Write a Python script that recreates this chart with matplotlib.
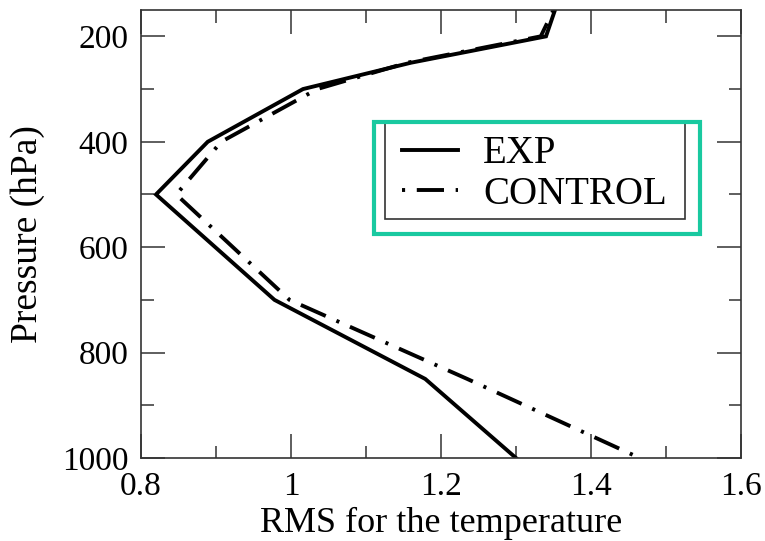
import matplotlib
matplotlib.use("Agg")
import matplotlib.pyplot as plt
from matplotlib.patches import Rectangle
from matplotlib.ticker import MultipleLocator

pressure = [150, 200, 250, 300, 400, 500, 700, 850, 1000]
exp_rms = [1.352, 1.340, 1.160, 1.016, 0.889, 0.820, 0.978, 1.179, 1.300]
control_rms = [1.350, 1.333, 1.155, 1.035, 0.907, 0.847, 0.998, 1.235, 1.465]
series_labels = ["EXP", "CONTROL"]
xlabel = "RMS for the temperature"
ylabel = "Pressure (hPa)"

plt.rcParams['font.family'] = ['Liberation Serif', 'DejaVu Serif']

fig = plt.figure(figsize=(7.65, 5.41), dpi=100)
ax = fig.add_axes([141/765, 1-458/541, 600/765, 448/541])

ax.plot(exp_rms, pressure, color='black', lw=2.8, solid_joinstyle='miter',
        label=series_labels[0])
ax.plot(control_rms, pressure, color='black', lw=2.8,
        linestyle=(10, (7, 3, 0.8, 3)), dash_capstyle='butt',
        label=series_labels[1])

ax.set_xlim(0.8, 1.6)
ax.set_ylim(1000, 150)
ax.xaxis.set_minor_locator(MultipleLocator(0.1))
ax.yaxis.set_major_locator(MultipleLocator(200))
ax.yaxis.set_minor_locator(MultipleLocator(100))
ax.set_xticks([0.8, 1.0, 1.2, 1.4, 1.6])
ax.set_xticklabels(["0.8", "1", "1.2", "1.4", "1.6"])

ax.tick_params(which='both', direction='in', top=True, right=True,
               color='#333333', width=1.1, labelsize=24)
ax.tick_params(axis='x', which='both', pad=10)
ax.tick_params(axis='y', which='both', pad=9)
ax.tick_params(which='major', length=17)
ax.tick_params(which='minor', length=9)
for s in ax.spines.values():
    s.set_color('#333333')
    s.set_linewidth(1.2)

ax.set_xlabel(xlabel, fontsize=26, labelpad=3)
ax.set_ylabel(ylabel, fontsize=27, labelpad=12)

# legend frame drawn separately for exact placement
frame = Rectangle((0.4067, 0.5335), 0.5, 0.2165, transform=ax.transAxes,
                  fill=True, facecolor='white', edgecolor='#333333', lw=1.2,
                  zorder=5)
ax.add_patch(frame)

leg = ax.legend(loc='center left', bbox_to_anchor=(0.435, 0.634),
                borderaxespad=0, borderpad=0, fontsize=28, frameon=False,
                handlelength=1.44, handletextpad=0.65, labelspacing=0.08)
leg.set_zorder(6)

rect = Rectangle((0.388, 0.5), 0.9317-0.388, 0.25, transform=ax.transAxes,
                 fill=False, edgecolor='#19c9a0', lw=3, clip_on=False, zorder=10)
ax.add_patch(rect)

fig.savefig("out.png", dpi=100)
